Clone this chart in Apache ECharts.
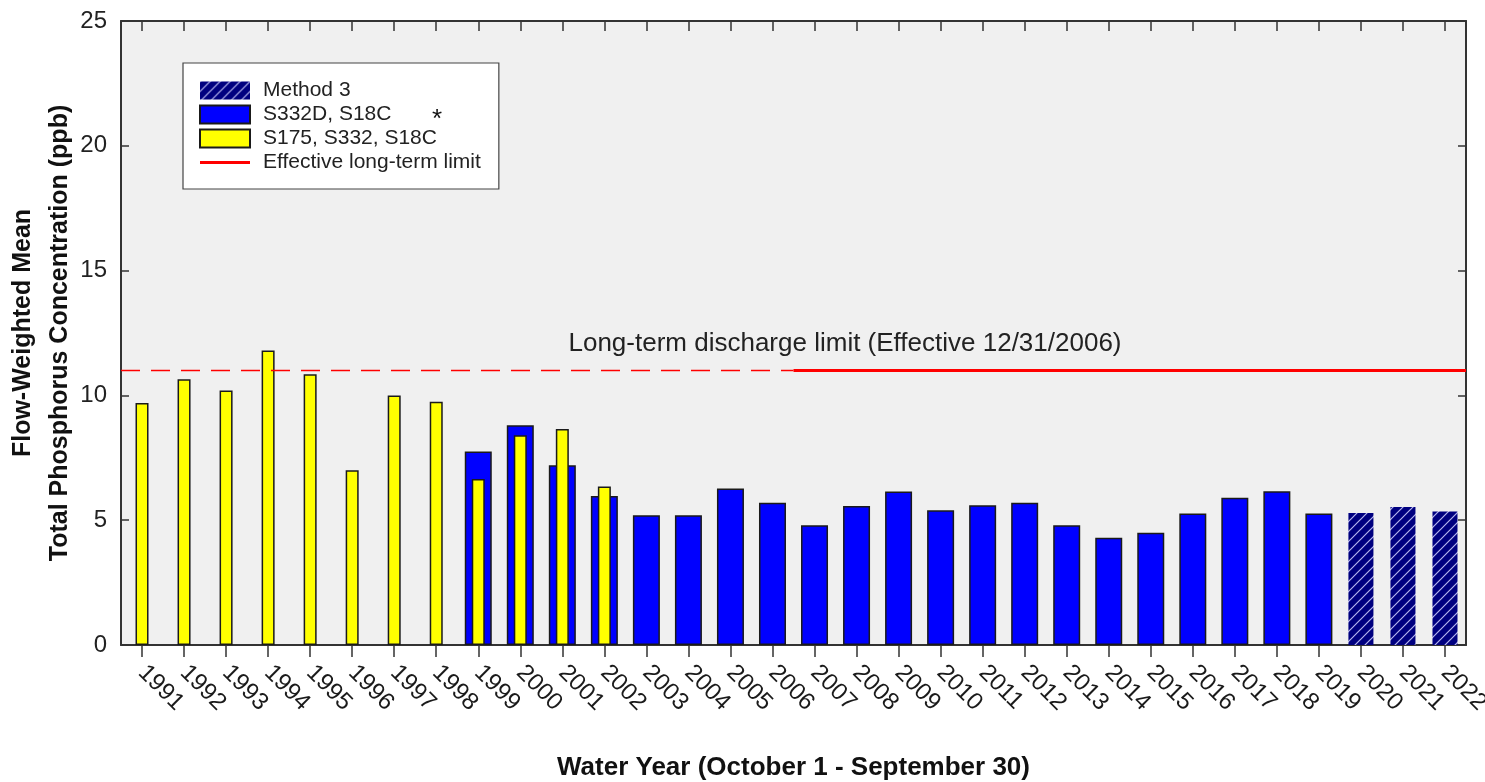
<!DOCTYPE html>
<html><head><meta charset="utf-8">
<script src="https://cdn.jsdelivr.net/npm/echarts@6/dist/echarts.min.js"></script>
<style>html,body{margin:0;padding:0;background:#fff}#c{width:1485px;height:782px}</style>
</head><body><div id="c"></div>
<script>
const years = ['1991','1992','1993','1994','1995','1996','1997','1998','1999','2000','2001','2002','2003','2004','2005','2006','2007','2008','2009','2010','2011','2012','2013','2014','2015','2016','2017','2018','2019','2020','2021','2022'];
// S175, S332, S18C (yellow)
const yellowValues = [9.7,10.65,10.2,11.8,10.85,7.0,10.0,9.75,6.65,8.4,8.65,6.35,null,null,null,null,null,null,null,null,null,null,null,null,null,null,null,null,null,null,null,null];
// S332D, S18C (blue)
const blueValues = [null,null,null,null,null,null,null,null,7.75,8.8,7.2,5.97,5.2,5.2,6.27,5.7,4.8,5.57,6.15,5.4,5.6,5.7,4.8,4.3,4.5,5.27,5.9,6.16,5.27,null,null,null];
// Method 3 (hatched)
const method3Values = [null,null,null,null,null,null,null,null,null,null,null,null,null,null,null,null,null,null,null,null,null,null,null,null,null,null,null,null,null,5.29,5.53,5.35];
// Long-term limit
const limitValue = 11;
const limitAxisStart = 1990.5, limitEffective = 2006.5, limitAxisEnd = 2022.5;
const yTicks = {min: 0, max: 25, interval: 5};

const FONT = "'Liberation Sans', Arial, sans-serif";
function makeHatch(){
  const s = 10; const c = document.createElement('canvas'); c.width = s; c.height = s;
  const g = c.getContext('2d');
  g.fillStyle = '#000080'; g.fillRect(0,0,s,s);
  g.strokeStyle = '#b4b4ee'; g.lineWidth = 1.2;
  g.beginPath();
  g.moveTo(0,s); g.lineTo(s,0);
  g.moveTo(-1,1); g.lineTo(1,-1);
  g.moveTo(s-1,s+1); g.lineTo(s+1,s-1);
  g.stroke();
  return c;
}
const hatch = {image: makeHatch(), repeat: 'repeat'};

const chart = echarts.init(document.getElementById('c'), null, {renderer: 'canvas'});
const axisLine = {show: true, onZero: false, lineStyle: {color: '#333', width: 2}};
const hiddenCat = {type: 'category', data: years, show: false, boundaryGap: true};
chart.setOption({
  animation: false,
  backgroundColor: '#fff',
  textStyle: {fontFamily: FONT},
  grid: {left: 121, right: 19, top: 21, bottom: 137, show: true, backgroundColor: '#f0f0f0', borderWidth: 0,
         containLabel: false, outerBoundsMode: 'none'},
  legend: {
    left: 183, top: 63, orient: 'vertical',
    data: [
      {name: 'Method 3', icon: 'rect'},
      {name: 'S332D, S18C', icon: 'rect'},
      {name: 'S175, S332, S18C', icon: 'rect'},
      {name: 'Effective long-term limit', icon: 'path://M0,0 M0,7.5 L50,7.5 L50,10.5 L0,10.5 Z M50,18'}
    ],
    itemWidth: 50, itemHeight: 18, itemGap: 3,
    padding: [17, 18, 16, 16],
    backgroundColor: '#fff', borderColor: '#444', borderWidth: 1.2,
    textStyle: {fontSize: 21, color: '#222', fontFamily: FONT, padding: [0, 0, 0, 8]},
    selectedMode: false
  },
  xAxis: [
    {type: 'category', data: years, position: 'bottom', boundaryGap: true,
     axisLine: axisLine,
     axisTick: {show: true, alignWithLabel: true, inside: false, length: 12, lineStyle: {color: '#333', width: 1.5}},
     axisLabel: {rotate: -45, margin: 24, fontSize: 24, color: '#1a1a1a', fontFamily: FONT, interval: 0},
     splitLine: {show: false},
     name: 'Water Year (October 1 - September 30)', nameLocation: 'middle', nameGap: 109, nameMoveOverlap: false,
     nameTextStyle: {fontSize: 26, fontWeight: 'bold', color: '#111', fontFamily: FONT, lineHeight: 28}
    },
    Object.assign({}, hiddenCat),
    Object.assign({}, hiddenCat),
    {type: 'category', data: years, position: 'top', boundaryGap: true,
     axisLine: axisLine,
     axisTick: {show: true, alignWithLabel: true, inside: true, length: 10, lineStyle: {color: '#333', width: 1.5}},
     axisLabel: {show: false}, splitLine: {show: false}},
    {type: 'value', min: limitAxisStart, max: limitAxisEnd, show: false, splitLine: {show: false}}
  ],
  yAxis: [
    {type: 'value', position: 'left', min: yTicks.min, max: yTicks.max, interval: yTicks.interval,
     axisLine: axisLine,
     axisTick: {show: true, inside: true, length: 8, lineStyle: {color: '#333', width: 1.5}},
     axisLabel: {fontSize: 24, color: '#222', margin: 14, fontFamily: FONT},
     splitLine: {show: false},
     name: 'Flow-Weighted Mean\nTotal Phosphorus Concentration (ppb)', nameLocation: 'middle', nameRotate: 90,
     nameGap: 42, nameMoveOverlap: false,
     nameTextStyle: {fontSize: 25, fontWeight: 'bold', color: '#111', lineHeight: 37, fontFamily: FONT}
    },
    {type: 'value', position: 'right', min: yTicks.min, max: yTicks.max, interval: yTicks.interval,
     axisLine: axisLine,
     axisTick: {show: true, inside: true, length: 8, lineStyle: {color: '#333', width: 1.5}},
     axisLabel: {show: false}, splitLine: {show: false}}
  ],
  series: [
    {name: 'S332D, S18C', type: 'bar', xAxisIndex: 0, yAxisIndex: 0, data: blueValues, barWidth: 27,
     itemStyle: {color: '#0000ff', borderColor: '#1a1a1a', borderWidth: 1.5}, z: 2},
    {name: 'S175, S332, S18C', type: 'bar', xAxisIndex: 1, yAxisIndex: 0, data: yellowValues, barWidth: 13,
     itemStyle: {color: '#ffff00', borderColor: '#1a1a1a', borderWidth: 1.5}, z: 3},
    {name: 'Method 3', type: 'bar', xAxisIndex: 2, yAxisIndex: 0, data: method3Values, barWidth: 25,
     itemStyle: {color: hatch, borderWidth: 0}, z: 2},
    {name: 'Long-term limit (before effective date)', type: 'line', xAxisIndex: 4, yAxisIndex: 0,
     data: [[limitAxisStart, limitValue], [limitEffective, limitValue]], symbol: 'none', silent: true,
     lineStyle: {color: '#ff0000', width: 1.6, type: [19, 11]}, z: 4},
    {name: 'Effective long-term limit', type: 'line', xAxisIndex: 4, yAxisIndex: 0,
     data: [[limitEffective, limitValue], [limitAxisEnd, limitValue]], symbol: 'none', silent: true,
     itemStyle: {color: '#ff0000'},
     lineStyle: {color: '#ff0000', width: 3}, z: 4}
  ],
  graphic: [
    {type: 'text', x: 845, y: 344, z: 10,
     style: {text: 'Long-term discharge limit (Effective 12/31/2006)', fill: '#222', font: "26px 'Liberation Sans', Arial, sans-serif",
       align: 'center', verticalAlign: 'middle', textAlign: 'center', textVerticalAlign: 'middle'}},
    {type: 'text', x: 437, y: 120, z: 10,
     style: {text: '*', fill: '#111', font: "26px 'Liberation Sans', Arial, sans-serif",
       align: 'center', verticalAlign: 'middle', textAlign: 'center', textVerticalAlign: 'middle'}}
  ]
});
</script></body></html>
